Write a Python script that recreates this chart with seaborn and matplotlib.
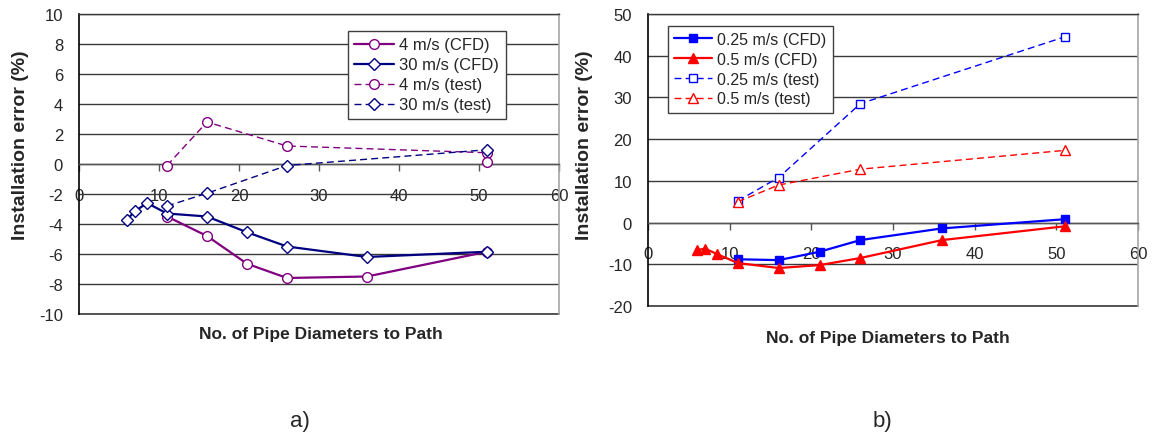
import numpy as np
import pandas as pd
import matplotlib
matplotlib.use("Agg")
import matplotlib.pyplot as plt
import seaborn as sns

# ---- panel a): installation error vs distance, gas meter ----
x_4_cfd = [11, 16, 21, 26, 36, 51]
y_4_cfd = [-3.5, -4.8, -6.65, -7.6, -7.5, -5.85]
x_30_cfd = [6, 7, 8.5, 11, 16, 21, 26, 36, 51]
y_30_cfd = [-3.7, -3.15, -2.6, -3.3, -3.5, -4.55, -5.5, -6.2, -5.85]
x_4_test = [11, 16, 26, 51, 51]
y_4_test = [-0.1, 2.8, 1.2, 0.75, 0.15]
x_30_test = [11, 16, 26, 51]
y_30_test = [-2.8, -1.95, -0.1, 0.95]
labels_a = ["4 m/s (CFD)", "30 m/s (CFD)", "4 m/s (test)", "30 m/s (test)"]

# ---- panel b): installation error vs distance, liquid meter ----
x_025_cfd = [11, 16, 21, 26, 36, 51]
y_025_cfd = [-8.8, -9.0, -7.0, -4.2, -1.4, 0.8]
x_05_cfd = [6, 7, 8.5, 11, 16, 21, 26, 36, 51]
y_05_cfd = [-6.6, -6.25, -7.6, -9.7, -10.9, -10.2, -8.5, -4.2, -0.9]
x_025_test = [11, 16, 26, 51]
y_025_test = [5.2, 10.8, 28.5, 44.5]
x_05_test = [11, 16, 26, 51]
y_05_test = [5.0, 9.0, 12.8, 17.3]
labels_b = ["0.25 m/s (CFD)", "0.5 m/s (CFD)", "0.25 m/s (test)", "0.5 m/s (test)"]

x_ticks = [0, 10, 20, 30, 40, 50, 60]
y_ticks_a = list(range(-10, 11, 2))
y_ticks_b = list(range(-20, 51, 10))

sns.set_style("white")
plt.rcParams["font.family"] = ["Liberation Sans", "DejaVu Sans"]
plt.rcParams["axes.unicode_minus"] = False

fig = plt.figure(figsize=(11.52, 4.39), dpi=100)
W, H = 1152, 439


def axes_px(x0, y0, x1, y1):
    return fig.add_axes([x0 / W, 1 - y1 / H, (x1 - x0) / W, (y1 - y0) / H])


ax_a = axes_px(79, 15, 559, 315)
ax_b = axes_px(648, 15, 1138, 307)

GRID = "#3a3a3a"


def series(ax, x, y, label, color, marker, ms, filled, dashed):
    df = pd.DataFrame({"x": x, "y": y})
    sns.lineplot(
        data=df, x="x", y="y", ax=ax, estimator=None, sort=False,
        color=color, label=label,
        linestyle=(0, (5, 3)) if dashed else "-",
        linewidth=1.0 if dashed else 1.6,
        marker=marker, markersize=ms,
        markerfacecolor=color if filled else "white",
        markeredgecolor=color, markeredgewidth=1.0,
        zorder=3,
    )


def style_axes(ax, ylim, yticks):
    ax.set_xlim(0, 60)
    ax.set_ylim(*ylim)
    ax.set_xticks(x_ticks)
    ax.set_yticks(yticks)
    ax.set_axisbelow(True)
    ax.yaxis.grid(True, color=GRID, linewidth=1.0)
    ax.xaxis.grid(False)
    ax.spines["bottom"].set_position(("data", 0))
    ax.spines["bottom"].set_color("#555555")
    ax.spines["bottom"].set_linewidth(1.0)
    ax.spines["left"].set_color("black")
    ax.spines["left"].set_linewidth(1.2)
    ax.spines["right"].set_color("#a6a6a6")
    ax.spines["right"].set_linewidth(1.2)
    ax.spines["top"].set_color(GRID)
    ax.spines["top"].set_linewidth(1.0)
    ax.axhline(ylim[0], color=GRID, linewidth=1.2, clip_on=False, zorder=1)
    ax.tick_params(axis="x", direction="out", length=5, width=1.0,
                   color="#555555", pad=12, labelsize=12, bottom=True)
    ax.tick_params(axis="y", length=0, pad=11.5, labelsize=12)
    ax.set_xlabel("No. of Pipe Diameters to Path", fontsize=12.5, fontweight="bold")
    ax.set_ylabel("Installation error (%)", fontsize=14, fontweight="bold")


# panel a
PURPLE, NAVY = "#800080", "#000080"
series(ax_a, x_4_cfd, y_4_cfd, labels_a[0], PURPLE, "o", 7, False, False)
series(ax_a, x_30_cfd, y_30_cfd, labels_a[1], NAVY, "D", 6.2, False, False)
series(ax_a, x_4_test, y_4_test, labels_a[2], PURPLE, "o", 7, False, True)
series(ax_a, x_30_test, y_30_test, labels_a[3], NAVY, "D", 6.2, False, True)
style_axes(ax_a, (-10, 10), y_ticks_a)
ax_a.xaxis.set_label_coords(0.504, -0.04)
ax_a.yaxis.set_label_coords(-0.104, 0.565)

# panel b
BLUE, RED = "#0000ff", "#ff0000"
series(ax_b, x_025_cfd, y_025_cfd, labels_b[0], BLUE, "s", 6.3, True, False)
series(ax_b, x_05_cfd, y_05_cfd, labels_b[1], RED, "^", 7.5, True, False)
series(ax_b, x_025_test, y_025_test, labels_b[2], BLUE, "s", 6.3, False, True)
series(ax_b, x_05_test, y_05_test, labels_b[3], RED, "^", 7.5, False, True)
style_axes(ax_b, (-20, 50), y_ticks_b)
ax_b.xaxis.set_label_coords(0.49, -0.082)
ax_b.yaxis.set_label_coords(-0.112, 0.555)

legend_kw = dict(loc="upper left", borderaxespad=0, frameon=True, fancybox=False,
                 framealpha=1, edgecolor="#404040", handlelength=2.4,
                 handletextpad=0.3, labelspacing=0.3, borderpad=0.38)
leg_a = ax_a.legend(bbox_to_anchor=((348 - 79) / 480, (315 - 32) / 300),
                    fontsize=12, **legend_kw)
leg_b = ax_b.legend(bbox_to_anchor=((668 - 648) / 490, (307 - 27) / 292),
                    fontsize=11.5, **legend_kw)
for leg in (leg_a, leg_b):
    leg.get_frame().set_linewidth(1.0)

fig.text(300 / W, 1 - 422 / H, "a)", fontsize=16, ha="center", va="center")
fig.text(882 / W, 1 - 422 / H, "b)", fontsize=16, ha="center", va="center")

fig.savefig("out.png", dpi=100)
